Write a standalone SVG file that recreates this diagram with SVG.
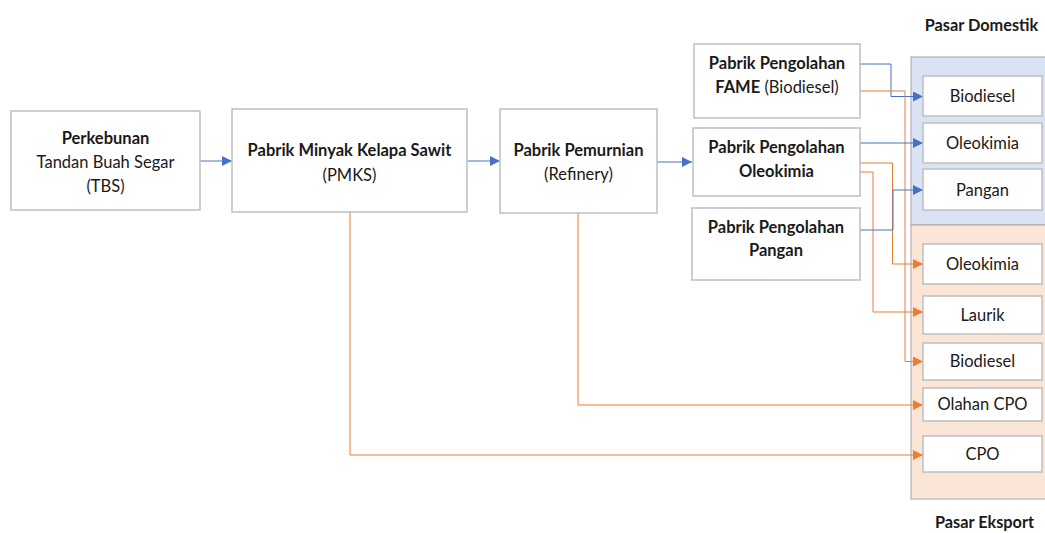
<svg xmlns="http://www.w3.org/2000/svg" width="1045" height="533" viewBox="0 0 1045 533">
<defs>
<marker id="ab" viewBox="0 0 10 10" refX="10" refY="5" markerWidth="10" markerHeight="10" markerUnits="userSpaceOnUse" orient="auto"><path d="M0,0 L10,5 L0,10 z" fill="#4472C4"/></marker>
<marker id="ao" viewBox="0 0 10 10" refX="10" refY="5" markerWidth="10" markerHeight="10" markerUnits="userSpaceOnUse" orient="auto"><path d="M0,0 L10,5 L0,10 z" fill="#ED7D31"/></marker>
</defs>
<style>
.box{fill:#fff;stroke:#BFBFBF;stroke-width:1.5}
text{font-family:Lato,"Open Sans",sans-serif;font-size:16.5px;fill:#1a1a1a;text-anchor:middle}
.b{font-weight:bold}
.lbl{font-size:16.3px}
.bl{fill:none;stroke:#4472C4;stroke-width:1}
.or{fill:none;stroke:#ED7D31;stroke-width:1}
</style>
<rect width="1045" height="533" fill="#fff"/>
<g id="regions">
<rect x="911" y="57" width="140" height="168" fill="#DAE3F3" stroke="#A6A6A6" stroke-width="1"/>
<rect x="911" y="225" width="140" height="274" fill="#FBE5D6" stroke="#A6A6A6" stroke-width="1"/>
<text class="b lbl" x="981.5" y="31">Pasar Domestik</text>
<text class="b lbl" x="984.5" y="528">Pasar Eksport</text>
</g>
<g id="connectors">
<path class="bl" d="M200,161 H232" marker-end="url(#ab)"/>
<path class="bl" d="M467,161 H500" marker-end="url(#ab)"/>
<path class="bl" d="M657,162 H692" marker-end="url(#ab)"/>
<path class="bl" d="M860,64 H891 V96.5 H923" marker-end="url(#ab)"/>
<path class="or" d="M860,91 H905 V361.5 H923" marker-end="url(#ao)"/>
<path class="bl" d="M860,143 H923" marker-end="url(#ab)"/>
<path class="or" d="M860,163 H892.5 V264 H923" marker-end="url(#ao)"/>
<path class="or" d="M860,172 H873 V312 H923" marker-end="url(#ao)"/>
<path class="bl" d="M860,230 H893 V190 H923" marker-end="url(#ab)"/>
<path class="or" d="M578,213 V405 H923" marker-end="url(#ao)"/>
<path class="or" d="M350,212 V455 H923" marker-end="url(#ao)"/>
</g>
<g id="perkebunan">
<rect class="box" x="11" y="111" width="189" height="99"/>
<text class="b" x="105.5" y="144">Perkebunan</text>
<text x="105.5" y="168">Tandan Buah Segar</text>
<text x="105.5" y="192">(TBS)</text>
</g>
<g id="pmks">
<rect class="box" x="232" y="109" width="235" height="103"/>
<text class="b" x="349.5" y="156">Pabrik Minyak Kelapa Sawit</text>
<text x="349.5" y="181">(PMKS)</text>
</g>
<g id="refinery">
<rect class="box" x="500" y="109" width="157" height="104"/>
<text class="b" x="578.5" y="156">Pabrik Pemurnian</text>
<text x="578.5" y="180">(Refinery)</text>
</g>
<g id="fame">
<rect class="box" x="694" y="44" width="166" height="74"/>
<text class="b" x="777" y="69">Pabrik Pengolahan</text>
<text x="777" y="93"><tspan class="b">FAME</tspan> (Biodiesel)</text>
</g>
<g id="oleokimia-factory">
<rect class="box" x="693" y="128" width="167" height="68"/>
<text class="b" x="776.5" y="153">Pabrik Pengolahan</text>
<text class="b" x="776.5" y="177">Oleokimia</text>
</g>
<g id="pangan-factory">
<rect class="box" x="692" y="208" width="168" height="72"/>
<text class="b" x="776" y="233">Pabrik Pengolahan</text>
<text class="b" x="776" y="256">Pangan</text>
</g>
<g id="d-biodiesel"><rect class="box" x="923" y="76" width="119" height="40"/><text x="982.5" y="102">Biodiesel</text></g>
<g id="d-oleokimia"><rect class="box" x="923" y="123" width="119" height="40"/><text x="982.5" y="149">Oleokimia</text></g>
<g id="d-pangan"><rect class="box" x="923" y="169" width="119" height="41"/><text x="982.5" y="196">Pangan</text></g>
<g id="e-oleokimia"><rect class="box" x="923" y="244" width="119" height="40"/><text x="982.5" y="270">Oleokimia</text></g>
<g id="e-laurik"><rect class="box" x="923" y="296" width="119" height="38"/><text x="982.5" y="321">Laurik</text></g>
<g id="e-biodiesel"><rect class="box" x="923" y="343" width="119" height="37"/><text x="982.5" y="367">Biodiesel</text></g>
<g id="e-olahan-cpo"><rect class="box" x="923" y="388" width="119" height="33"/><text x="982.5" y="410">Olahan CPO</text></g>
<g id="e-cpo"><rect class="box" x="923" y="436" width="119" height="36"/><text x="982.5" y="460">CPO</text></g>
</svg>
